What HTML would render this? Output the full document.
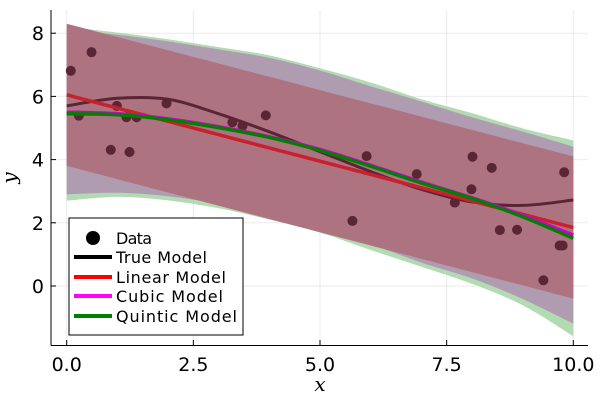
<!DOCTYPE html>
<html><head><meta charset="utf-8"><style>
body{margin:0;background:#fff}
svg{display:block;font-family:"DejaVu Sans","Liberation Sans",sans-serif}
</style></head><body>
<svg id="chart" width="600" height="400" xmlns="http://www.w3.org/2000/svg">
<g id="grid"></g>
<g id="bands"></g>
<g id="pts"></g>
<g id="lines"></g>
<g id="axes"></g>
<text x="320" y="391" font-size="20" font-style="italic" font-family="DejaVu Serif,serif" text-anchor="middle">x</text>
<text x="16" y="178" font-size="20" font-style="italic" font-family="DejaVu Serif,serif" text-anchor="middle" transform="rotate(-90 16 178)">y</text>
<g>
<rect x="69" y="218" width="174" height="117" fill="#fff" stroke="#000" stroke-width="1"/>
<circle cx="93" cy="238" r="7" fill="#000"/>
<text x="116" y="244" font-size="16" textLength="36">Data</text>
<line x1="74" y1="257" x2="112" y2="257" stroke="#000" stroke-width="4"/>
<text x="116" y="263" font-size="16" textLength="91">True Model</text>
<line x1="74" y1="277" x2="112" y2="277" stroke="#ff0000" stroke-width="4"/>
<text x="116" y="283" font-size="16" textLength="110">Linear Model</text>
<line x1="74" y1="296" x2="112" y2="296" stroke="#ff00ff" stroke-width="4"/>
<text x="116" y="302" font-size="16" textLength="107">Cubic Model</text>
<line x1="74" y1="316" x2="112" y2="316" stroke="#008000" stroke-width="4"/>
<text x="116" y="322" font-size="16" textLength="121">Quintic Model</text>
</g>
</svg>
<script>
const dataX=[0.08,0.49,0.24,0.87,1.24,0.99,1.18,1.38,1.97,3.27,3.47,3.93,5.64,5.92,6.91,7.66,7.99,8.01,8.39,8.55,8.89,9.41,9.73,9.79,9.82];
const dataY=[6.81,7.40,5.39,4.31,4.24,5.70,5.34,5.34,5.78,5.18,5.07,5.40,2.06,4.11,3.54,2.64,3.06,4.09,3.74,1.77,1.78,0.18,1.28,1.28,3.60];
const gridX=[0,1,2,3,4,5,6,7,8,9,10];
const trueY=[5.70,5.94,5.91,5.45,4.88,4.25,3.62,3.06,2.66,2.55,2.72];
const linearY=[6.05,5.63,5.21,4.79,4.37,3.95,3.53,3.11,2.69,2.27,1.85];
const cubicY=[5.50,5.45,5.29,5.04,4.72,4.32,3.82,3.29,2.79,2.24,1.61];
const quinticY=[5.45,5.42,5.26,5.01,4.70,4.29,3.79,3.26,2.77,2.19,1.51];
const linearHalf=[2.25,2.25,2.25,2.25,2.25,2.25,2.25,2.25,2.25,2.25,2.25];
const cubicHalf=[2.6,2.5,2.45,2.45,2.5,2.5,2.5,2.55,2.55,2.65,2.8];
const quinticHalf=[2.75,2.6,2.55,2.55,2.6,2.6,2.65,2.65,2.7,2.8,3.1];
const xTicks=[0,2.5,5,7.5,10];
const xTickLabels=["0.0","2.5","5.0","7.5","10.0"];
const yTicks=[0,2,4,6,8];
const yTickLabels=["0","2","4","6","8"];

const NS="http://www.w3.org/2000/svg";
const X=v=>66.7+v*50.66;
const Y=v=>286-v*31.6;
function mk(tag,attrs,parent){const e=document.createElementNS(NS,tag);for(const k in attrs)e.setAttribute(k,attrs[k]);parent.appendChild(e);return e;}
function smooth(xs,ys){
  let pts=xs.map((x,i)=>[X(x),Y(ys[i])]);
  let d="M"+pts[0][0]+","+pts[0][1];
  for(let i=0;i<pts.length-1;i++){
    const p0=pts[Math.max(0,i-1)],p1=pts[i],p2=pts[i+1],p3=pts[Math.min(pts.length-1,i+2)];
    const c1=[p1[0]+(p2[0]-p0[0])/6,p1[1]+(p2[1]-p0[1])/6];
    const c2=[p2[0]-(p3[0]-p1[0])/6,p2[1]-(p3[1]-p1[1])/6];
    d+=" C"+c1[0]+","+c1[1]+" "+c2[0]+","+c2[1]+" "+p2[0]+","+p2[1];
  }
  return d;
}
function bandPath(mean,half){
  const up=mean.map((m,i)=>m+half[i]), lo=mean.map((m,i)=>m-half[i]);
  const top=smooth(gridX,up);
  const rx=gridX.slice().reverse(), rl=lo.slice().reverse();
  const bot=smooth(rx,rl).replace("M","L");
  return top+" "+bot+" Z";
}
const grid=document.getElementById('grid');
xTicks.forEach(t=>{const l=mk('line',{x1:X(t),x2:X(t),y1:10,y2:345,stroke:'#000','stroke-opacity':0.08},grid);

});
yTicks.forEach(t=>{const l=mk('line',{x1:51,x2:588,y1:Y(t),y2:Y(t),stroke:'#000','stroke-opacity':0.08},grid);

});

const bands=document.getElementById('bands');
const b1=mk('path',{d:bandPath(quinticY,quinticHalf),fill:'#b3dbb3'},bands);


const b2=mk('path',{d:bandPath(cubicY,cubicHalf),fill:'#b09cb0'},bands);


const b3=mk('path',{d:bandPath(linearY,linearHalf),fill:'#ad7381'},bands);



const pts=document.getElementById('pts');
dataX.forEach((x,i)=>{const c=mk('circle',{cx:X(x),cy:Y(dataY[i]),r:5,fill:'#5a2535'},pts);

});

const lines=document.getElementById('lines');
const l1=mk('path',{d:smooth(gridX,trueY),fill:'none',stroke:'#5a2535','stroke-width':3},lines);


const l2=mk('path',{d:smooth(gridX,linearY),fill:'none',stroke:'#c8202c','stroke-width':3.5},lines);


const l3=mk('path',{d:smooth(gridX,cubicY),fill:'none',stroke:'#cc00cc','stroke-width':3.5},lines);


const l4=mk('path',{d:smooth(gridX,quinticY),fill:'none',stroke:'#008000','stroke-width':3.5},lines);



const axes=document.getElementById('axes');
mk('line',{x1:51,x2:51,y1:10,y2:345.5,stroke:'#000','stroke-width':1},axes);
mk('line',{x1:51,x2:588,y1:345.5,y2:345.5,stroke:'#000','stroke-width':1},axes);
xTicks.forEach((t,i)=>{mk('line',{x1:X(t),x2:X(t),y1:345,y2:340,stroke:'#000'},axes);
const tx=mk('text',{x:X(t),y:371,'font-size':19,'text-anchor':'middle'},axes);tx.textContent=xTickLabels[i];

});
yTicks.forEach((t,i)=>{mk('line',{x1:51,x2:56,y1:Y(t),y2:Y(t),stroke:'#000'},axes);
const tx=mk('text',{x:44,y:Y(t)+7,'font-size':19,'text-anchor':'end'},axes);tx.textContent=yTickLabels[i];

});
</script>
</body></html>
